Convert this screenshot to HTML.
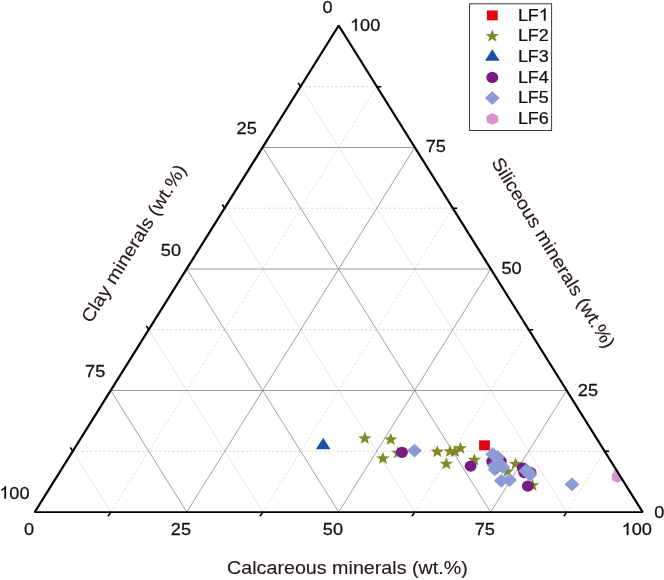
<!DOCTYPE html>
<html><head><meta charset="utf-8"><title>Ternary</title>
<style>html,body{margin:0;padding:0;background:#fff;}svg{display:block;will-change:transform;}text{font-family:"Liberation Sans",sans-serif;fill:#111;stroke:#111;stroke-width:0.25px;}text.ax{fill:#231815;stroke:#231815;stroke-width:0.12px;}</style>
</head><body>
<svg width="664" height="580" viewBox="0 0 664 580">
<rect x="0" y="0" width="664" height="580" fill="#ffffff"/>
<defs><clipPath id="tri"><polygon points="34.8,512.0 338.7,26.0 642.6,512.0"/></clipPath></defs>
<g fill="none">
<line x1="300.71" y1="86.75" x2="376.69" y2="86.75" stroke="#cccccc" stroke-width="0.8" stroke-dasharray="2.2 2.13"/>
<line x1="110.78" y1="512.00" x2="376.69" y2="86.75" stroke="#d6d6d6" stroke-width="0.8" stroke-dasharray="2.2 2.13"/>
<line x1="300.71" y1="86.75" x2="566.62" y2="512.00" stroke="#dedede" stroke-width="0.8"/>
<line x1="224.74" y1="208.25" x2="452.66" y2="208.25" stroke="#cccccc" stroke-width="0.8" stroke-dasharray="2.2 2.13"/>
<line x1="262.73" y1="512.00" x2="452.66" y2="208.25" stroke="#d6d6d6" stroke-width="0.8" stroke-dasharray="2.2 2.13"/>
<line x1="224.74" y1="208.25" x2="414.68" y2="512.00" stroke="#dedede" stroke-width="0.8"/>
<line x1="148.76" y1="329.75" x2="528.64" y2="329.75" stroke="#cccccc" stroke-width="0.8" stroke-dasharray="2.2 2.13"/>
<line x1="414.68" y1="512.00" x2="528.64" y2="329.75" stroke="#d6d6d6" stroke-width="0.8" stroke-dasharray="2.2 2.13"/>
<line x1="148.76" y1="329.75" x2="262.73" y2="512.00" stroke="#dedede" stroke-width="0.8"/>
<line x1="72.79" y1="451.25" x2="604.61" y2="451.25" stroke="#cccccc" stroke-width="0.8" stroke-dasharray="2.2 2.13"/>
<line x1="566.62" y1="512.00" x2="604.61" y2="451.25" stroke="#d6d6d6" stroke-width="0.8" stroke-dasharray="2.2 2.13"/>
<line x1="72.79" y1="451.25" x2="110.78" y2="512.00" stroke="#dedede" stroke-width="0.8"/>
<line x1="262.72" y1="147.50" x2="414.67" y2="147.50" stroke="#8e8e8e" stroke-width="0.85"/>
<line x1="186.75" y1="512.00" x2="414.67" y2="147.50" stroke="#8e8e8e" stroke-width="0.85"/>
<line x1="262.72" y1="147.50" x2="490.65" y2="512.00" stroke="#8e8e8e" stroke-width="0.85"/>
<line x1="186.75" y1="269.00" x2="490.65" y2="269.00" stroke="#8e8e8e" stroke-width="0.85"/>
<line x1="338.70" y1="512.00" x2="490.65" y2="269.00" stroke="#8e8e8e" stroke-width="0.85"/>
<line x1="186.75" y1="269.00" x2="338.70" y2="512.00" stroke="#8e8e8e" stroke-width="0.85"/>
<line x1="110.77" y1="390.50" x2="566.62" y2="390.50" stroke="#8e8e8e" stroke-width="0.85"/>
<line x1="490.65" y1="512.00" x2="566.62" y2="390.50" stroke="#8e8e8e" stroke-width="0.85"/>
<line x1="110.77" y1="390.50" x2="186.75" y2="512.00" stroke="#8e8e8e" stroke-width="0.85"/>
</g>
<g clip-path="url(#tri)">
<rect x="479.10" y="440.35" width="10.8" height="9.9" fill="#e60012"/>
<polygon points="364.80,431.85 366.55,436.24 371.53,436.45 367.63,439.36 368.96,443.88 364.80,441.29 360.64,443.88 361.97,439.36 358.07,436.45 363.05,436.24" fill="#7f8a26"/>
<polygon points="390.70,432.85 392.45,437.24 397.43,437.45 393.53,440.36 394.86,444.88 390.70,442.29 386.54,444.88 387.87,440.36 383.97,437.45 388.95,437.24" fill="#7f8a26"/>
<polygon points="382.90,451.85 384.65,456.24 389.63,456.45 385.73,459.36 387.06,463.88 382.90,461.29 378.74,463.88 380.07,459.36 376.17,456.45 381.15,456.24" fill="#7f8a26"/>
<polygon points="397.90,446.25 399.65,450.64 404.63,450.85 400.73,453.76 402.06,458.28 397.90,455.69 393.74,458.28 395.07,453.76 391.17,450.85 396.15,450.64" fill="#7f8a26"/>
<polygon points="437.30,445.15 439.05,449.54 444.03,449.75 440.13,452.66 441.46,457.18 437.30,454.59 433.14,457.18 434.47,452.66 430.57,449.75 435.55,449.54" fill="#7f8a26"/>
<polygon points="450.00,444.75 451.75,449.14 456.73,449.35 452.83,452.26 454.16,456.78 450.00,454.19 445.84,456.78 447.17,452.26 443.27,449.35 448.25,449.14" fill="#7f8a26"/>
<polygon points="455.00,444.95 456.75,449.34 461.73,449.55 457.83,452.46 459.16,456.98 455.00,454.39 450.84,456.98 452.17,452.46 448.27,449.55 453.25,449.34" fill="#7f8a26"/>
<polygon points="460.30,441.75 462.05,446.14 467.03,446.35 463.13,449.26 464.46,453.78 460.30,451.19 456.14,453.78 457.47,449.26 453.57,446.35 458.55,446.14" fill="#7f8a26"/>
<polygon points="446.30,457.25 448.05,461.64 453.03,461.85 449.13,464.76 450.46,469.28 446.30,466.69 442.14,469.28 443.47,464.76 439.57,461.85 444.55,461.64" fill="#7f8a26"/>
<polygon points="474.30,453.25 476.05,457.64 481.03,457.85 477.13,460.76 478.46,465.28 474.30,462.69 470.14,465.28 471.47,460.76 467.57,457.85 472.55,457.64" fill="#7f8a26"/>
<polygon points="515.60,457.35 517.35,461.74 522.33,461.95 518.43,464.86 519.76,469.38 515.60,466.79 511.44,469.38 512.77,464.86 508.87,461.95 513.85,461.74" fill="#7f8a26"/>
<polygon points="507.50,464.85 509.25,469.24 514.23,469.45 510.33,472.36 511.66,476.88 507.50,474.29 503.34,476.88 504.67,472.36 500.77,469.45 505.75,469.24" fill="#7f8a26"/>
<polygon points="532.50,478.75 534.25,483.14 539.23,483.35 535.33,486.26 536.66,490.78 532.50,488.19 528.34,490.78 529.67,486.26 525.77,483.35 530.75,483.14" fill="#7f8a26"/>
<polygon points="323.15,437.65 330.45,449.25 315.85,449.25" fill="#1b4fa8"/>
<ellipse cx="402.00" cy="452.30" rx="5.95" ry="5.6" fill="#761c80"/>
<ellipse cx="470.60" cy="466.10" rx="5.95" ry="5.6" fill="#761c80"/>
<ellipse cx="492.20" cy="461.40" rx="5.95" ry="5.6" fill="#761c80"/>
<ellipse cx="500.80" cy="461.40" rx="5.95" ry="5.6" fill="#761c80"/>
<ellipse cx="522.80" cy="468.00" rx="5.95" ry="5.6" fill="#761c80"/>
<ellipse cx="524.30" cy="472.60" rx="5.95" ry="5.6" fill="#761c80"/>
<ellipse cx="530.60" cy="472.60" rx="5.95" ry="5.6" fill="#761c80"/>
<ellipse cx="527.80" cy="486.10" rx="5.95" ry="5.6" fill="#761c80"/>
<polygon points="414.50,443.70 421.95,450.60 414.50,457.50 407.05,450.60" fill="#8d9bd5"/>
<polygon points="492.70,447.30 500.15,454.20 492.70,461.10 485.25,454.20" fill="#8d9bd5"/>
<polygon points="497.70,450.20 505.15,457.10 497.70,464.00 490.25,457.10" fill="#8d9bd5"/>
<polygon points="495.00,462.50 502.45,469.40 495.00,476.30 487.55,469.40" fill="#8d9bd5"/>
<polygon points="494.60,458.90 502.05,465.80 494.60,472.70 487.15,465.80" fill="#8d9bd5"/>
<polygon points="502.90,460.30 510.35,467.20 502.90,474.10 495.45,467.20" fill="#8d9bd5"/>
<polygon points="498.50,455.60 505.95,462.50 498.50,469.40 491.05,462.50" fill="#8d9bd5"/>
<polygon points="501.30,473.90 508.75,480.80 501.30,487.70 493.85,480.80" fill="#8d9bd5"/>
<polygon points="509.50,473.10 516.95,480.00 509.50,486.90 502.05,480.00" fill="#8d9bd5"/>
<polygon points="525.90,463.80 533.35,470.70 525.90,477.60 518.45,470.70" fill="#8d9bd5"/>
<polygon points="529.90,467.90 537.35,474.80 529.90,481.70 522.45,474.80" fill="#8d9bd5"/>
<polygon points="528.60,465.10 536.05,472.00 528.60,478.90 521.15,472.00" fill="#8d9bd5"/>
<polygon points="572.00,477.50 579.45,484.40 572.00,491.30 564.55,484.40" fill="#8d9bd5"/>
<polygon points="619.40,467.25 625.13,470.22 625.13,476.18 619.40,479.15 613.67,476.18 613.67,470.22" fill="#d593cb"/>
<polygon points="617.60,470.95 623.33,473.92 623.33,479.88 617.60,482.85 611.87,479.88 611.87,473.92" fill="#d593cb"/>
</g>
<polyline points="34.8,512.0 338.7,25.5 642.6,512.0" fill="none" stroke="#000" stroke-width="2.2" stroke-linejoin="bevel"/>
<line x1="34.3" y1="512.0" x2="643.1" y2="512.0" stroke="#000" stroke-width="1.75"/>
<g stroke="#000" stroke-width="1.6" fill="none">
<line x1="300.71" y1="86.75" x2="298.27" y2="82.85" />
<line x1="376.69" y1="86.75" x2="381.29" y2="86.75" />
<line x1="110.78" y1="512.00" x2="108.07" y2="516.32" />
<line x1="224.74" y1="208.25" x2="222.30" y2="204.35" />
<line x1="452.66" y1="208.25" x2="457.26" y2="208.25" />
<line x1="262.73" y1="512.00" x2="260.02" y2="516.32" />
<line x1="148.76" y1="329.75" x2="146.32" y2="325.85" />
<line x1="528.64" y1="329.75" x2="533.24" y2="329.75" />
<line x1="414.68" y1="512.00" x2="411.97" y2="516.32" />
<line x1="72.79" y1="451.25" x2="70.35" y2="447.35" />
<line x1="604.61" y1="451.25" x2="609.21" y2="451.25" />
<line x1="566.62" y1="512.00" x2="563.92" y2="516.32" />
</g>
<text transform="translate(332.60,12.60) scale(1.07,1)" font-size="17.0" text-anchor="end">0</text>
<text transform="translate(256.85,134.07) scale(1.07,1)" font-size="17.0" text-anchor="end">25</text>
<text transform="translate(181.10,255.55) scale(1.07,1)" font-size="17.0" text-anchor="end">50</text>
<text transform="translate(105.35,377.02) scale(1.07,1)" font-size="17.0" text-anchor="end">75</text>
<path transform="translate(-0.74,498.50) scale(0.008882,-0.008301)" d="M763 0H583V1147Q518 1085 412.5 1023Q307 961 223 930V1104Q374 1175 487 1276Q600 1377 647 1472H763Z" fill="#111" stroke="#111" stroke-width="30"/>
<text transform="translate(9.37,498.50) scale(1.07,1)" font-size="17.0" text-anchor="start">00</text>
<path transform="translate(350.00,30.80) scale(0.008882,-0.008301)" d="M763 0H583V1147Q518 1085 412.5 1023Q307 961 223 930V1104Q374 1175 487 1276Q600 1377 647 1472H763Z" fill="#111" stroke="#111" stroke-width="30"/>
<text transform="translate(360.11,30.80) scale(1.07,1)" font-size="17.0" text-anchor="start">00</text>
<text transform="translate(425.75,152.28) scale(1.07,1)" font-size="17.0" text-anchor="start">75</text>
<text transform="translate(501.50,273.75) scale(1.07,1)" font-size="17.0" text-anchor="start">50</text>
<text transform="translate(577.85,395.62) scale(1.07,1)" font-size="17.0" text-anchor="start">25</text>
<text transform="translate(654.20,517.50) scale(1.07,1)" font-size="17.0" text-anchor="start">0</text>
<text transform="translate(29.10,535.00) scale(1.07,1)" font-size="17.0" text-anchor="middle">0</text>
<text transform="translate(180.90,535.00) scale(1.07,1)" font-size="17.0" text-anchor="middle">25</text>
<text transform="translate(332.90,535.00) scale(1.07,1)" font-size="17.0" text-anchor="middle">50</text>
<text transform="translate(484.85,535.00) scale(1.07,1)" font-size="17.0" text-anchor="middle">75</text>
<path transform="translate(621.63,535.00) scale(0.008882,-0.008301)" d="M763 0H583V1147Q518 1085 412.5 1023Q307 961 223 930V1104Q374 1175 487 1276Q600 1377 647 1472H763Z" fill="#111" stroke="#111" stroke-width="30"/>
<text transform="translate(631.74,535.00) scale(1.07,1)" font-size="17.0" text-anchor="start">00</text>
<text class="ax" transform="translate(347.40,574.40) scale(1.076,1)" font-size="18.3" text-anchor="middle">Calcareous minerals (wt.%)</text>
<text class="ax" transform="translate(90.96,324.10) rotate(-58.2) scale(1.086,1)" font-size="18.3" text-anchor="start">Clay minerals (wt.%)</text>
<text class="ax" transform="translate(490.90,162.20) rotate(58.65) scale(1.075,1)" font-size="18.3" text-anchor="start">Siliceous minerals (wt.%)</text>
<rect x="469.5" y="3.8" width="82.1" height="126.7" fill="#fff" stroke="#3a3a3a" stroke-width="1"/>
<rect x="486.90" y="10.45" width="10.8" height="9.9" fill="#e60012"/>
<polygon points="492.30,29.55 494.05,33.94 499.03,34.15 495.13,37.06 496.46,41.58 492.30,38.99 488.14,41.58 489.47,37.06 485.57,34.15 490.55,33.94" fill="#7f8a26"/>
<polygon points="492.30,49.20 499.60,60.80 485.00,60.80" fill="#1b4fa8"/>
<ellipse cx="492.30" cy="77.45" rx="5.95" ry="5.6" fill="#761c80"/>
<polygon points="492.30,91.20 499.75,98.10 492.30,105.00 484.85,98.10" fill="#8d9bd5"/>
<polygon points="492.30,112.95 498.03,115.93 498.03,121.88 492.30,124.85 486.57,121.88 486.57,115.93" fill="#d593cb"/>
<text transform="translate(517.90,20.60) scale(1.055,1)" font-size="17.0" text-anchor="start">LF</text>
<path transform="translate(538.83,20.60) scale(0.008757,-0.008301)" d="M763 0H583V1147Q518 1085 412.5 1023Q307 961 223 930V1104Q374 1175 487 1276Q600 1377 647 1472H763Z" fill="#111" stroke="#111" stroke-width="30"/>
<text transform="translate(517.90,41.30) scale(1.055,1)" font-size="17.0" text-anchor="start">LF2</text>
<text transform="translate(517.90,62.00) scale(1.055,1)" font-size="17.0" text-anchor="start">LF3</text>
<text transform="translate(517.90,82.70) scale(1.055,1)" font-size="17.0" text-anchor="start">LF4</text>
<text transform="translate(517.90,103.40) scale(1.055,1)" font-size="17.0" text-anchor="start">LF5</text>
<text transform="translate(517.90,124.10) scale(1.055,1)" font-size="17.0" text-anchor="start">LF6</text>
</svg>
</body></html>
